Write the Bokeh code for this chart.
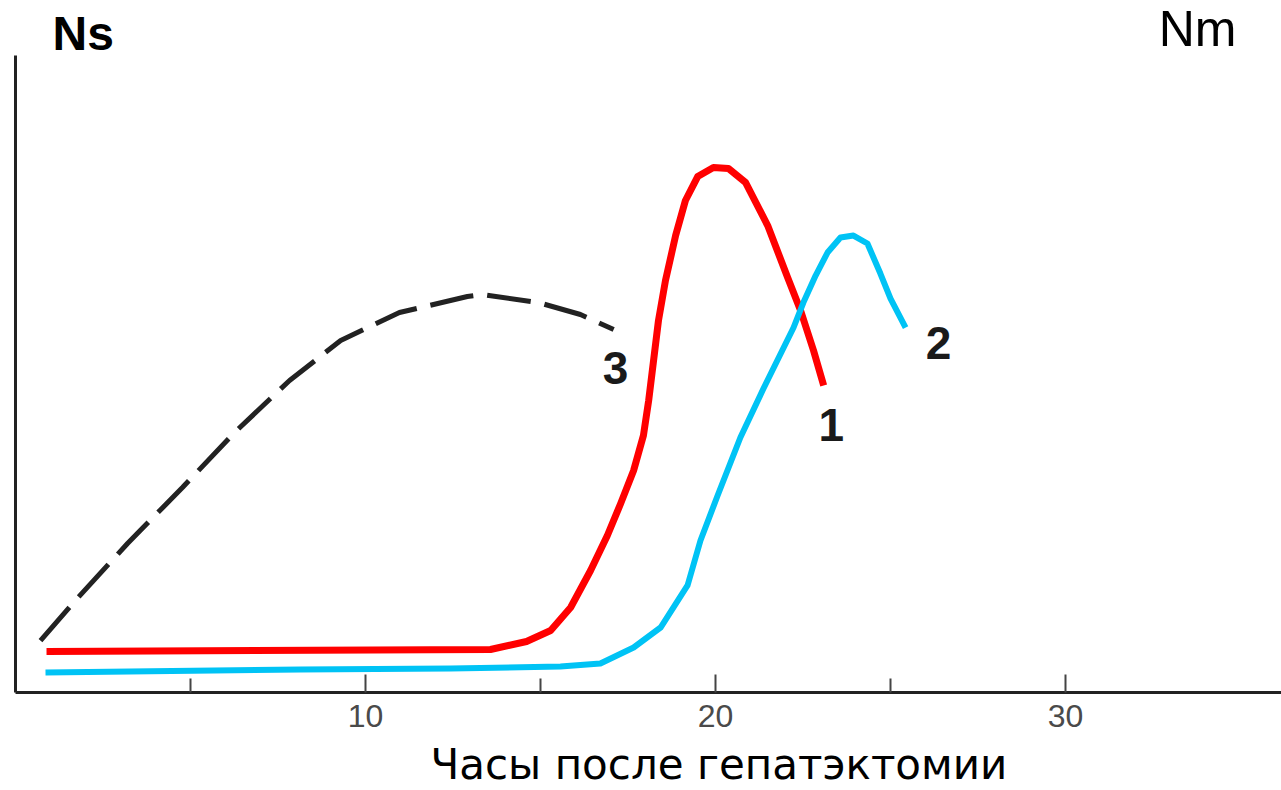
from bokeh.plotting import figure
from bokeh.models import Range1d, FixedTicker, Label, Title
from bokeh.embed import file_html
from bokeh.resources import INLINE

# Curve 1 (red): hours after hepatectomy vs relative units
red_x = [0.886, 13.57, 14.6, 15.29, 15.86, 16.43, 16.91, 17.29, 17.66, 17.94, 18.09, 18.23,
         18.37, 18.57, 18.86, 19.14, 19.49, 19.94, 20.37, 20.86, 21.49, 22.06, 22.43, 22.8, 23.09]
red_y = [6.44, 6.75, 8.01, 9.73, 13.34, 19.15, 24.65, 29.67, 34.85, 40.35, 45.84, 52.12,
         58.40, 64.68, 71.74, 77.24, 81.0, 82.42, 82.26, 80.06, 73.31, 65.15, 59.97, 53.69, 48.19]

# Curve 2 (blue)
blue_x = [0.857, 8.14, 12.43, 15.57, 16.71, 17.66, 18.43, 19.2, 19.57, 20.06, 20.71, 21.37,
          22.23, 22.51, 22.86, 23.2, 23.57, 23.94, 24.34, 24.71, 25.0, 25.43]
blue_y = [3.14, 3.61, 3.77, 4.08, 4.55, 7.06, 10.2, 16.8, 23.86, 30.93, 40.03, 47.72,
          57.3, 61.22, 65.46, 69.07, 71.43, 71.74, 70.49, 65.78, 61.85, 57.3]

# Curve 3 (black dashed)
dash_x = [0.714, 1.71, 3.2, 4.77, 6.23, 7.83, 9.29, 10.97, 12.91, 13.34, 14.94, 16.14, 17.09]
dash_y = [8.16, 14.44, 23.39, 32.18, 40.66, 48.98, 55.26, 59.65, 62.17, 62.48, 61.22, 59.34, 56.98]

curve_labels = ["1", "2", "3"]
label_x = [23.31, 26.37, 17.14]
label_y = [42.0, 54.9, 50.9]

major_ticks = [10, 20, 30]
minor_ticks = [5, 15, 25]
x_title = "Часы после гепатэктомии"
left_title = "Ns"
right_title = "Nm"

p = figure(frame_width=1266, frame_height=692, output_backend="svg", toolbar_location=None,
           x_range=Range1d(0, 36.17), y_range=Range1d(0, 108.64),
           min_border_left=15, min_border_right=0, min_border_top=0, min_border_bottom=0)
p.outline_line_color = None
p.grid.grid_line_color = None
p.background_fill_color = "white"
p.border_fill_color = "white"

xa = p.xaxis[0]
xa.ticker = FixedTicker(ticks=major_ticks, minor_ticks=minor_ticks)
xa.axis_line_width = 3
xa.axis_line_color = "#222222"
xa.major_tick_in = 18
xa.major_tick_out = 0
xa.minor_tick_in = 14
xa.minor_tick_out = 0
xa.major_tick_line_width = 2
xa.minor_tick_line_width = 2
xa.major_tick_line_color = "#444444"
xa.minor_tick_line_color = "#444444"
xa.major_label_text_font = "Liberation Sans"
xa.major_label_text_font_size = "32px"
xa.major_label_text_color = "#4a4a4a"
xa.major_label_standoff = 12

ya = p.yaxis[0]
ya.ticker = FixedTicker(ticks=[])
ya.bounds = (0, 100)
ya.axis_line_width = 3
ya.axis_line_color = "#222222"
ya.major_tick_line_color = None
ya.minor_tick_line_color = None
ya.major_label_text_font_size = "0px"

p.add_layout(Title(text=x_title, align="left", offset=415, standoff=16,
                   text_font="DejaVu Sans", text_font_style="normal",
                   text_font_size="42px", text_color="#000000"), "below")

p.line(dash_x, dash_y, line_color="#222222", line_width=5, line_dash="44 14")
p.line(red_x, red_y, line_color="#ff0000", line_width=7, line_join="round")
p.line(blue_x, blue_y, line_color="#00c3f5", line_width=6, line_join="round")

for t, lx, ly in zip(curve_labels, label_x, label_y):
    p.add_layout(Label(x=lx, y=ly, text=t, text_align="center", text_baseline="middle",
                       text_font="Liberation Sans", text_font_style="bold",
                       text_font_size="46px", text_color="#1a1a1a"))

p.add_layout(Label(x=1.06, y=103.4, text=left_title, text_align="left", text_baseline="alphabetic",
                   text_font="Liberation Sans", text_font_style="bold",
                   text_font_size="48px", text_color="#000000"))
p.add_layout(Label(x=32.66, y=104.1, text=right_title, text_align="left", text_baseline="alphabetic",
                   text_font="Liberation Sans", text_font_size="50px", text_color="#000000"))

open("out.html", "w").write(file_html(p, INLINE))
